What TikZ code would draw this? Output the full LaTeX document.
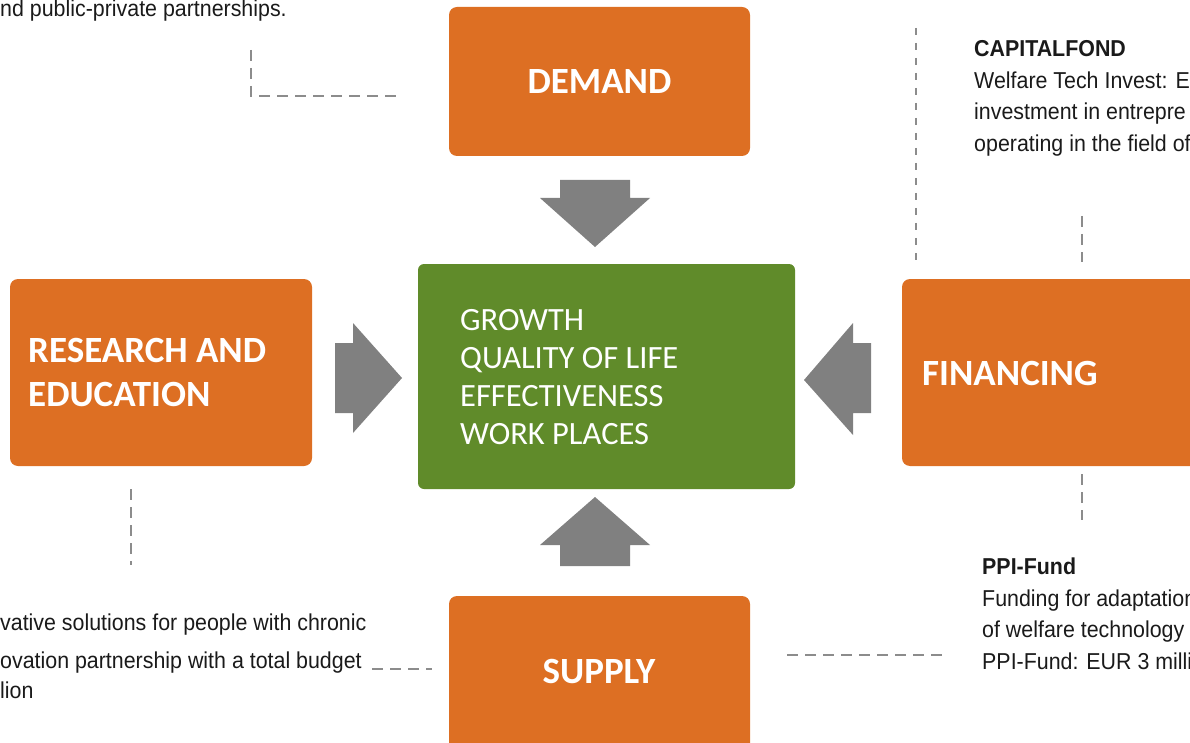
\documentclass[tikz,border=0pt]{standalone}
\usepackage{fontspec}
\setmainfont{Carlito}
\newfontfamily\narrowfont[FakeStretch=0.93]{Liberation Sans}
\definecolor{orangeC}{RGB}{221,111,35}
\definecolor{greenC}{RGB}{96,139,42}
\definecolor{arrowC}{RGB}{128,128,128}
\definecolor{dashC}{RGB}{140,140,140}
\definecolor{txtC}{RGB}{26,26,26}
\begin{document}
\begin{tikzpicture}[x=1pt,y=-1pt,
  obox/.style={fill=orangeC, rounded corners=8pt, inner sep=0pt, text=white,
    font=\fontsize{37}{44}\selectfont\bfseries},
  gbox/.style={fill=greenC, rounded corners=6pt, inner sep=0pt},
  headtxt/.style={text=white, inner sep=0pt, align=left, anchor=west,
    font=\fontsize{37}{44}\selectfont\bfseries},
  greentxt/.style={text=white, inner sep=0pt, align=left, anchor=west,
    font=\fontsize{32.5}{38}\selectfont},
  note/.style={text=txtC, inner sep=0pt, anchor=base west,
    font=\narrowfont\fontsize{23}{31}\selectfont},
  notebold/.style={note, font=\narrowfont\bfseries\fontsize{23}{31}\selectfont},
  dashline/.style={draw=dashC, line width=2.5pt, dash pattern=on 11pt off 7pt},
  dashthin/.style={draw=dashC, line width=2pt, dash pattern=on 7pt off 8pt},
  blockarrow/.style={fill=arrowC, draw=none}]
\useasboundingbox (0,0) rectangle (1190,743);
\clip (0,0) rectangle (1190,743);

% boxes
\node[obox, minimum width=301pt, minimum height=149pt] (demand) at (599.5,81.5) {DEMAND};
\node[gbox, minimum width=377pt, minimum height=225pt] (core) at (606.5,376.5) {};
\node[obox, minimum width=302pt, minimum height=187pt] (research) at (161,372.5) {};
\node[obox, minimum width=310pt, minimum height=187pt] (financing) at (1057,372.5) {};
\node[obox, minimum width=301pt, minimum height=164pt] (supply) at (599.5,678) {};

\node[headtxt] (researchtxt) at (28,373) {RESEARCH AND\\EDUCATION};
\node[headtxt] (financingtxt) at (922,373) {FINANCING};
\node[text=white, inner sep=0pt, font=\fontsize{37}{44}\selectfont\bfseries] (supplytxt) at (599,671) {SUPPLY};
\node[greentxt] (coretxt) at (460,377) {GROWTH\\QUALITY OF LIFE\\EFFECTIVENESS\\WORK PLACES};

% block arrows
\fill[blockarrow] (560,180) -- (630,180) -- (630,198) -- (650,198) -- (595,247) -- (540,198) -- (560,198) -- cycle;
\fill[blockarrow] (560,566) -- (630,566) -- (630,545) -- (650,545) -- (595,497) -- (540,545) -- (560,545) -- cycle;
\fill[blockarrow] (335,343) -- (353,343) -- (353,323) -- (402,378) -- (353,433) -- (353,413) -- (335,413) -- cycle;
\fill[blockarrow] (871,343) -- (853,343) -- (853,323) -- (804,380) -- (853,435) -- (853,413) -- (871,413) -- cycle;

% dashed connectors
\coordinate (tla) at (251,50);
\coordinate (tlb) at (251,96);
\coordinate (tlc) at (402,96);
\draw[dashline] (tla) -- (tlb) -- (tlc);
\coordinate (tra) at (916,28);
\coordinate (trb) at (916,262);
\draw[dashthin] (tra) -- (trb);
\coordinate (fta) at (1082,216);
\coordinate (ftb) at (1082,262);
\draw[dashline] (fta) -- (ftb);
\coordinate (fba) at (1082,474);
\coordinate (fbb) at (1082,520);
\draw[dashline] (fba) -- (fbb);
\coordinate (rba) at (131,489);
\coordinate (rbb) at (131,565);
\draw[dashline] (rba) -- (rbb);
\coordinate (sla) at (372,669);
\coordinate (slb) at (432,669);
\draw[dashline] (sla) -- (slb);
\coordinate (sra) at (787,655);
\coordinate (srb) at (946,655);
\draw[dashline] (sra) -- (srb);

% notes
\node[note] (n1) at (0,17) {nd public-private partnerships.};
\node[notebold] (cap) at (974,57) {CAPITALFOND};
\node[note] (cap1) at (974,89) {Welfare Tech Invest: E};
\node[note] (cap2) at (974,120) {investment in entrepre};
\node[note] (cap3) at (974,152) {operating in the field of};
\node[notebold] (ppi) at (982,574) {PPI-Fund};
\node[note] (ppi1) at (982,606) {Funding for adaptation};
\node[note] (ppi2) at (982,637) {of welfare technology};
\node[note] (ppi3) at (982,669) {PPI-Fund: EUR 3 milli};
\node[note] (b1) at (0,630) {vative solutions for people with chronic};
\node[note] (b2) at (0,668) {ovation partnership with a total budget};
\node[note] (b3) at (0,698) {lion};
\end{tikzpicture}
\end{document}
